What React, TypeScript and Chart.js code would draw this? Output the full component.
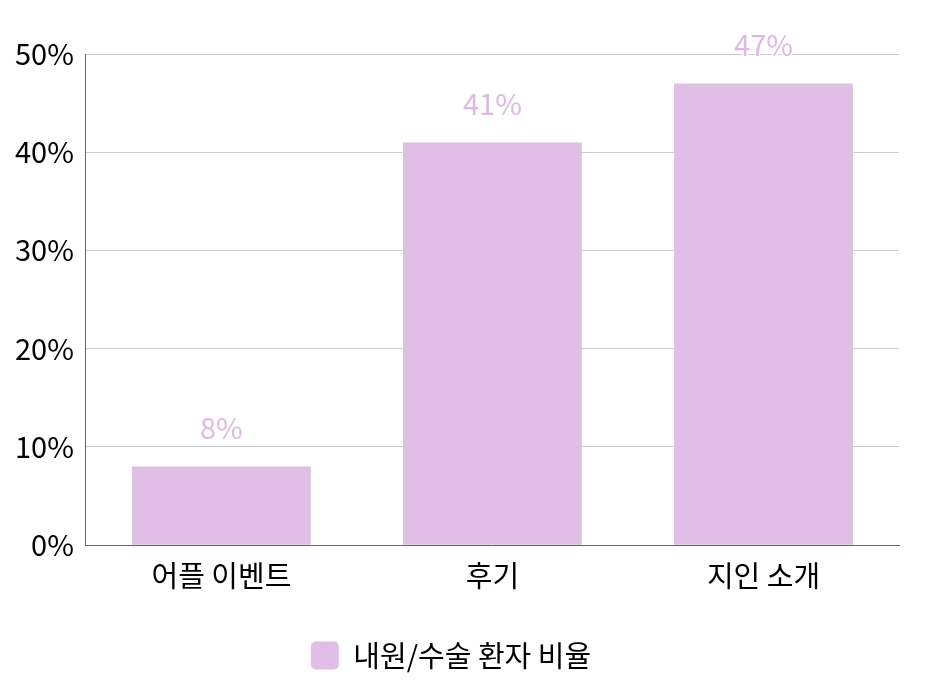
import { useEffect, useRef } from "react";
import { Chart, registerables } from "chart.js";
import type { Plugin } from "chart.js";

Chart.register(...registerables);

const categories = ["어플 이벤트", "후기", "지인 소개"];
const seriesLabel = "내원/수술 환자 비율";
const values = [8, 41, 47];
const yTicks = [0, 10, 20, 30, 40, 50];

const FONT = "'Noto Sans CJK KR', 'Noto Sans', sans-serif";
const BAR = "#E0BEE6";

const valueLabels: Plugin<"bar"> = {
  id: "valueLabels",
  afterDatasetsDraw(chart) {
    const ctx = chart.ctx;
    const meta = chart.getDatasetMeta(0);
    ctx.save();
    ctx.font = `29px ${FONT}`;
    ctx.textAlign = "center";
    ctx.textBaseline = "bottom";
    meta.data.forEach((bar, i) => {
      const y = bar.y - 24;
      ctx.lineWidth = 3;
      ctx.strokeStyle = "#ffffff";
      ctx.strokeText(`${values[i]}%`, bar.x, y);
      ctx.fillStyle = "#DDB9E4";
      ctx.fillText(`${values[i]}%`, bar.x, y);
    });
    ctx.restore();
  },
};

export default function App() {
  const canvasRef = useRef<HTMLCanvasElement>(null);

  useEffect(() => {
    document.body.style.margin = "0";
    if (!canvasRef.current) return;
    const ctx = canvasRef.current.getContext("2d") as CanvasRenderingContext2D;

    const chart = new Chart(ctx, {
      type: "bar",
      data: {
        labels: categories,
        datasets: [
          {
            label: seriesLabel,
            data: values,
            backgroundColor: BAR,
            borderWidth: 0,
            barPercentage: 0.66,
            categoryPercentage: 1,
          },
        ],
      },
      options: {
        animation: false,
        responsive: false,
        layout: { padding: { top: 54, right: 41, left: 3, bottom: 15 } },
        plugins: {
          tooltip: { enabled: false },
          legend: {
            position: "bottom",
            labels: {
              font: { family: FONT, size: 29 },
              color: "#000000",
              boxWidth: 28,
              boxHeight: 28,
              useBorderRadius: true,
              borderRadius: 5,
              padding: 43,
            },
          },
        },
        scales: {
          x: {
            grid: { display: false },
            border: { color: "#666666" },
            ticks: {
              color: "#000000",
              font: { family: FONT, size: 29 },
              padding: 5,
            },
          },
          y: {
            min: 0,
            max: 50,
            afterBuildTicks: (axis) => {
              axis.ticks = yTicks.map((v) => ({ value: v }));
            },
            grid: { color: "#cccccc", drawTicks: false },
            border: { color: "#666666" },
            ticks: {
              color: "#000000",
              font: { family: FONT, size: 29 },
              padding: 12,
              callback: (v) => `${v}%`,
            },
          },
        },
      },
      plugins: [valueLabels],
    });

    return () => {
      chart.destroy();
    };
  }, []);

  return <canvas ref={canvasRef} width={940} height={695} />;
}
